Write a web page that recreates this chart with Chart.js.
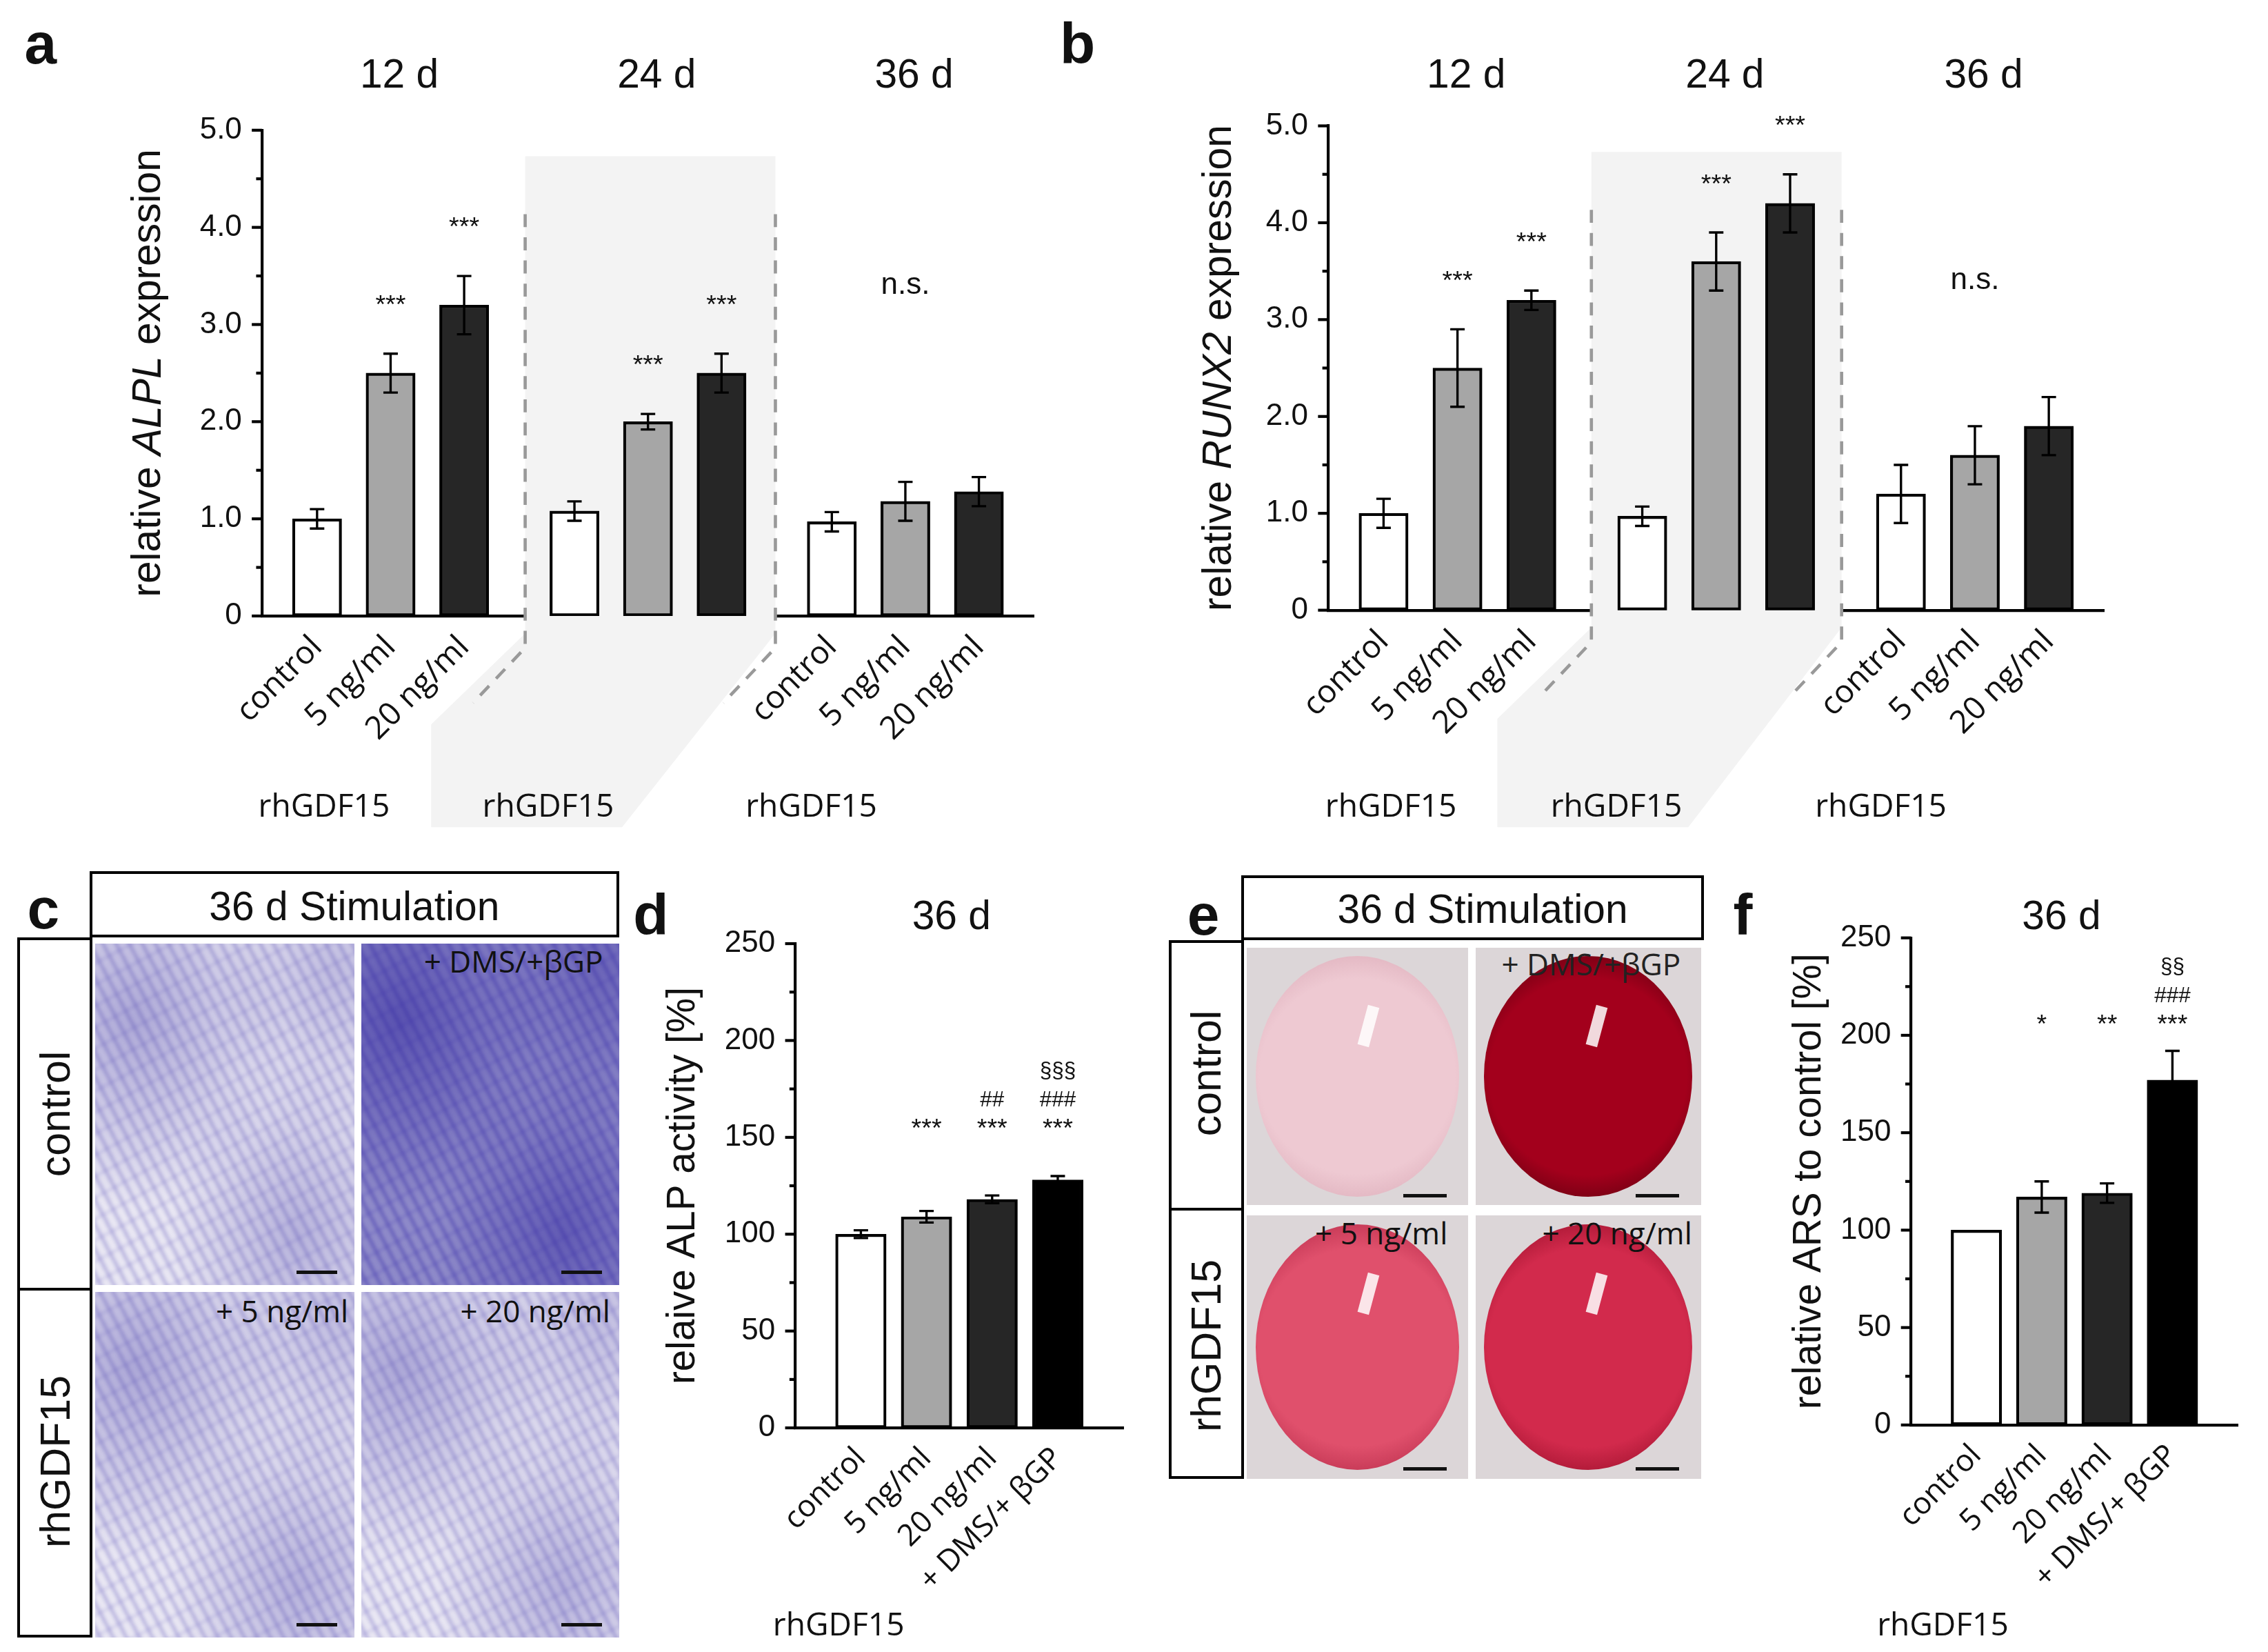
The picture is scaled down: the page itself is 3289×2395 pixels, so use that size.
<!DOCTYPE html>
<html><head><meta charset="utf-8">
<script src="https://cdn.jsdelivr.net/npm/chart.js@4/dist/chart.umd.min.js"></script>
<style>
body{margin:0;background:#fff;width:3289px;height:2395px;position:relative;overflow:hidden;font-family:"Liberation Sans",Arial,sans-serif}
canvas{position:absolute}
.t{position:absolute;transform:translate(-50%,-50%);white-space:nowrap;color:#111}
.box{position:absolute;box-sizing:border-box}
</style></head><body>
<script>
// ---------- data ----------
const doseLabels = ['control','5 ng/ml','20 ng/ml'];
const timeLabels = ['12 d','24 d','36 d'];
const alplValues = [1.0,2.5,3.2, 1.08,2.0,2.5, 0.97,1.18,1.28];
const alplErrors = [0.1,0.2,0.3, 0.1,0.08,0.2, 0.1,0.2,0.15];
const alplStars  = ['***','***', '***','***'];
const runx2Values = [1.0,2.5,3.2, 0.97,3.6,4.2, 1.2,1.6,1.9];
const runx2Errors = [0.15,0.4,0.1, 0.1,0.3,0.3, 0.3,0.3,0.3];
const runx2Stars  = ['***','***', '***','***'];
const alpLabels = ['control','5 ng/ml','20 ng/ml','+ DMS/+ βGP'];
const alpValues = [100,109,118,128];
const alpErrors = [2,3,2,2];
const alpSig = [[],['***'],['***','##'],['***','###','§§§']];
const arsValues = [100,117,119,177];
const arsErrors = [0,8,5,15];
const arsSig = [[],['*'],['**'],['***','###','§§']];
const expTicks = [0,1,2,3,4,5];
const pctTicks = [0,50,100,150,200,250];

const S = 3289/1568;
const FILL3 = ['#ffffff','#a6a6a6','#262626'];
const FILL4 = ['#ffffff','#a6a6a6','#262626','#000000'];
const NARROW = '"Liberation Sans Narrow","Liberation Sans",Arial,sans-serif';
const SANS = '"Liberation Sans",Arial,sans-serif';
const OPEN = '"Open Sans","Liberation Sans",sans-serif';

function txt(s,x,y,size,extra){const d=document.createElement('div');d.className='t';d.innerHTML=s;
 d.style.left=(x*S)+'px';d.style.top=(y*S)+'px';d.style.fontSize=(size*S)+'px';if(extra)Object.assign(d.style,extra);document.body.appendChild(d);return d;}
function box(x,y,w,h,st){const d=document.createElement('div');d.className='box';Object.assign(d.style,{left:x*S+'px',top:y*S+'px',width:w*S+'px',height:h*S+'px'},st||{});document.body.appendChild(d);return d;}

function makeChart(c){
 const cv=document.createElement('canvas');
 cv.width=c.box.w*S;cv.height=c.box.h*S;cv.style.left=c.box.x*S+'px';cv.style.top=c.box.y*S+'px';
 document.body.appendChild(cv);
 const plug={id:'ann',
  beforeDatasetsDraw(ch){ if(c.before) c.before(ch,ch.ctx); },
  afterDatasetsDraw(ch){
   const ctx=ch.ctx, y=ch.scales.y, meta=ch.getDatasetMeta(0);
   ctx.save();ctx.strokeStyle='#000';ctx.lineWidth=1.6*S;
   c.values.forEach((v,i)=>{ if(v==null||!c.errors[i])return; const b=meta.data[i], x=b.x;
     const y1=y.getPixelForValue(v+c.errors[i]), y2=y.getPixelForValue(v-c.errors[i]);
     ctx.beginPath();ctx.moveTo(x,y1);ctx.lineTo(x,y2);
     ctx.moveTo(x-5*S,y1);ctx.lineTo(x+5*S,y1);ctx.moveTo(x-5*S,y2);ctx.lineTo(x+5*S,y2);ctx.stroke();});
   const xa=ch.chartArea.left;
   ctx.lineWidth=2*S;
   for(let v=c.yMin;v<=c.yMax+1e-9;v+=c.minor){ const p=y.getPixelForValue(v);
     const major=Math.abs(v/c.step-Math.round(v/c.step))<1e-6;
     ctx.beginPath();ctx.moveTo(xa,p);ctx.lineTo(xa-(major?7:4)*S,p);ctx.stroke();}
   ctx.fillStyle='#111';ctx.translate(c.titleX*S-c.box.x*S,(ch.chartArea.top+ch.chartArea.bottom)/2);ctx.rotate(-Math.PI/2);
   ctx.textBaseline='middle';
   let tot=0;const fs=c.titleSize*S;
   c.titleParts.forEach(p=>{ctx.font=(p[1]?'italic ':'')+fs+'px '+SANS;tot+=ctx.measureText(p[0]).width;});
   let xx=-tot/2;
   c.titleParts.forEach(p=>{ctx.font=(p[1]?'italic ':'')+fs+'px '+SANS;ctx.textAlign='left';ctx.fillText(p[0],xx,0);xx+=ctx.measureText(p[0]).width;});
   ctx.restore();
   if(c.after) c.after(ch,ch.ctx);
  }};
 return new Chart(cv,{type:'bar',
  data:{labels:c.labels,datasets:[{data:c.values,backgroundColor:c.colors,borderColor:'#000',borderWidth:2*S,barThickness:c.barW*S,borderSkipped:false}]},
  options:{responsive:false,animation:false,devicePixelRatio:1,
   layout:{padding:{top:(c.axis.top-c.box.y)*S,right:(c.box.x+c.box.w-c.axis.right)*S,left:0,bottom:0}},
   plugins:{legend:{display:false},tooltip:{enabled:false}},
   scales:{
    x:{offset:c.offset,grid:{display:false},border:{color:'#000',width:2*S},
       afterFit(s){s.height=(c.box.y+c.box.h-c.axis.bottom)*S;},
       ticks:{autoSkip:false,minRotation:45,maxRotation:45,color:'#111',padding:5*S,font:{family:OPEN,size:c.xFont*S}}},
    y:{min:c.yMin,max:c.yMax,grid:{display:false},border:{color:'#000',width:2*S},
       afterFit(s){s.width=(c.axis.left-c.box.x)*S;},
       afterBuildTicks(s){s.ticks=c.ticks.map(v=>({value:v}));},
       ticks:{color:'#111',padding:10*S,font:{family:NARROW,size:c.yFont*S},callback:c.fmt}}}},
  plugins:[plug]});
}

function expand(arr){
 const out=new Array(21).fill(null);
 arr.forEach((v,i)=>{out[Math.floor(i/3)*7+1+2*(i%3)]=v;});return out;}

function geneChart(bx,ax,vals,errs,gene,shade,stars,ns,titleX){
 const labels=expand(doseLabels.concat(doseLabels,doseLabels)).map(v=>v||'');
 const colors=expand(FILL3.concat(FILL3,FILL3)).map(v=>v||'#fff');
 const V=expand(vals),E=expand(errs);
 makeChart({box:bx,axis:ax,labels,values:V,errors:E,colors,barW:34,offset:true,
  yMin:0,yMax:5,step:1,minor:0.5,ticks:expTicks,fmt:v=>v===0?'0':v.toFixed(1),
  yFont:21,xFont:22,titleSize:28,titleX,
  titleParts:[['relative ',0],[gene,1],[' expression',0]],
  before(ch,ctx){
   ctx.save();
   const L=(shade[0]-bx.x)*S,R=(shade[1]-bx.x)*S,T=(shade[2]-bx.y)*S,B=ch.chartArea.bottom;
   const dy=(575-ax.bottom-3)*S;
   ctx.fillStyle='#f3f3f3';ctx.beginPath();ctx.moveTo(L,T);ctx.lineTo(R,T);ctx.lineTo(R,B+12*S);
   ctx.lineTo(R-106*S,B+dy);ctx.lineTo(L-65*S,B+dy);ctx.lineTo(L-65*S,B+75*S);ctx.lineTo(L,B+12*S);ctx.closePath();ctx.fill();
   ctx.strokeStyle='#999';ctx.lineWidth=2.2*S;ctx.setLineDash([9*S,7*S]);
   [L,R].forEach(x=>{ctx.beginPath();ctx.moveTo(x,T+40*S);ctx.lineTo(x,B+22*S);ctx.lineTo(x-36*S,B+60*S);ctx.stroke();});
   ctx.restore();
  },
  after(ch,ctx){
   const y=ch.scales.y,meta=ch.getDatasetMeta(0);ctx.save();ctx.fillStyle='#111';ctx.textAlign='center';ctx.textBaseline='middle';
   ctx.font=(18*S)+'px '+NARROW;
   [1,2,4,5].forEach((k,j)=>{const i=Math.floor(k/3)*7+1+2*(k%3);
     ctx.fillText(stars[j],meta.data[i].x,y.getPixelForValue(vals[k]+errs[k]+0.55)+4*S);});
   ctx.font=(21*S)+'px '+NARROW;
   ctx.fillText('n.s.',meta.data[17].x,y.getPixelForValue(ns));
   const off=[-46,-69,-65];
   [1,8,15].forEach((i,g)=>{const xc=(meta.data[i].x+meta.data[i+4].x)/2;
     ctx.font=(28*S)+'px '+SANS;ctx.fillText(timeLabels[g],xc+6*S,(53-bx.y)*S);
     ctx.font=(22*S)+'px '+OPEN;ctx.fillText('rhGDF15',xc+off[g]*S,(558-bx.y)*S);});
   ctx.restore();
  }});
}
geneChart({x:70,y:0,w:670,h:600},{left:181,top:90,right:715,bottom:426},alplValues,alplErrors,'ALPL',[363,536,108],alplStars,3.4,103);
geneChart({x:805,y:0,w:665,h:600},{left:918,top:87,right:1455,bottom:422},runx2Values,runx2Errors,'RUNX2',[1100,1273,105],runx2Stars,3.4,843);

function pctChart(bx,ax,vals,errs,sig,sigVal,offset,lead,trail,title,t36x,rhx,titleX){
 const pad=a=>new Array(lead).fill(null).concat(a,new Array(trail).fill(null));
 const labels=pad(alpLabels).map(v=>v||'');
 const V=pad(vals),E=pad(errs),C=pad(FILL4).map(v=>v||'#fff'),SG=pad(sig);
 makeChart({box:bx,axis:ax,labels,values:V,errors:E,colors:C,barW:35,offset,
  yMin:0,yMax:250,step:50,minor:25,ticks:pctTicks,fmt:v=>String(v),
  yFont:21,xFont:21,titleSize:27,titleX,titleParts:[[title,0]],
  after(ch,ctx){const y=ch.scales.y,meta=ch.getDatasetMeta(0);ctx.save();ctx.fillStyle='#111';ctx.textAlign='center';ctx.textBaseline='middle';
   V.forEach((v,i)=>{if(v==null)return;(SG[i]||[]).forEach((t,r)=>{ctx.font=(t.indexOf('*')>=0?18:15)*S+'px '+NARROW;
     ctx.fillText(t,meta.data[i].x,y.getPixelForValue(sigVal)-r*20*S+4*S);});});
   ctx.font=(28*S)+'px '+SANS;ctx.fillText('36 d',(t36x-bx.x)*S,(634-bx.y)*S);
   ctx.font=(22*S)+'px '+OPEN;ctx.fillText('rhGDF15',(rhx-bx.x)*S,(bx.h-16)*S);
   ctx.restore();}});
}
pctChart({x:445,y:600,w:355,h:540},{left:550,top:652,right:785,bottom:987},alpValues,alpErrors,alpSig,157,false,1,1,'relaive ALP activity [%]',658,580,473);
pctChart({x:1225,y:600,w:345,h:540},{left:1321,top:648,right:1560,bottom:985},arsValues,arsErrors,arsSig,208,false,1,1,'relative ARS to control [%]',1425,1343,1251);

[['a',28,30],['b',745,30],['c',30,628],['d',450,632],['e',832,632],['f',1205,632]].forEach(p=>txt(p[0],p[1],p[2],40,{fontWeight:'bold',fontFamily:SANS}));

function frame(x0,x1,y0,yh,ymid,y1){
 box(x0+50,y0,x1-x0-50,yh-y0,{border:(2.2*S)+'px solid #000'});
 box(x0,yh,50,y1-yh,{borderLeft:(2.2*S)+'px solid #000',borderTop:(2.2*S)+'px solid #000',borderBottom:(2.2*S)+'px solid #000'});
 box(x0,ymid,50,0,{borderTop:(2.2*S)+'px solid #000'});
 box(x0+50,yh,0,y1-yh,{borderLeft:(2.2*S)+'px solid #000'});
}
frame(12,428,602,648,890,1132);
txt('36 d Stimulation',245,626,28,{fontFamily:SANS});
txt('control',38,770,29,{transform:'translate(-50%,-50%) rotate(-90deg)'});
txt('rhGDF15',38,1010,29,{transform:'translate(-50%,-50%) rotate(-90deg)'});
function blue(x,y,w,h,dark){
 const a=dark?0.5:0.28;
 const d=box(x,y,w,h,{overflow:'hidden',background:dark?'#8f8bc9':'#e9e7f3'});
 const inner=document.createElement('div');
 Object.assign(inner.style,{position:'absolute',left:'-20%',top:'-20%',width:'140%',height:'140%',filter:`blur(${1.2*S}px)`,background:
  `radial-gradient(ellipse at 25% 30%, rgba(55,45,160,${a*1.2}) 0, transparent 40%),`+
  `radial-gradient(ellipse at 70% 75%, rgba(55,45,160,${a}) 0, transparent 35%),`+
  `radial-gradient(ellipse at 80% 20%, rgba(55,45,160,${a*0.8}) 0, transparent 30%),`+
  `repeating-linear-gradient(62deg, rgba(70,60,175,${a}) 0 ${2.5*S}px, transparent ${2.5*S}px ${8*S}px),`+
  `repeating-linear-gradient(-28deg, rgba(80,70,185,${a*0.5}) 0 ${2*S}px, transparent ${2*S}px ${13*S}px)`});
 d.appendChild(inner);
 box(x+w-40,y+h-10,28,0,{borderTop:(2.5*S)+'px solid #111'});
}
blue(66,652,179,236,false);blue(250,652,178,236,true);blue(66,893,179,239,false);blue(250,893,178,239,false);
txt('+ DMS/+βGP',355,664,21,{fontFamily:OPEN});
txt('+ 5 ng/ml',195,906,21,{fontFamily:OPEN});
txt('+ 20 ng/ml',370,906,21,{fontFamily:OPEN});

frame(808,1178,605,650,835,1022);
txt('36 d Stimulation',1025,628,28,{fontFamily:SANS});
txt('control',834,742,29,{transform:'translate(-50%,-50%) rotate(-90deg)'});
txt('rhGDF15',834,930,29,{transform:'translate(-50%,-50%) rotate(-90deg)'});
function well(x,y,w,h,col,edge){
 box(x,y,w,h,{background:'#dcd6d8'});
 box(x+6,y+6,w-12,h-12,{borderRadius:'50%',background:`radial-gradient(circle at 50% 50%, ${col} 0 62%, ${edge} 78%, #f2eef0 92%)`});
 box(x+80,y+40,8,28,{background:'rgba(255,255,255,0.85)',transform:'rotate(15deg)'});
 box(x+w-45,y+h-8,30,0,{borderTop:(2.5*S)+'px solid #111'});
}
well(862,655,153,178,'#eec9d2','#e3b8c3');
well(1020,655,156,178,'#a3001c','#7a0014');
well(862,840,153,182,'#e0506c','#c83b58');
well(1020,840,156,182,'#d22a4c','#b01a38');
txt('+ DMS/+βGP',1100,666,21,{fontFamily:OPEN,color:'#222'});
txt('+ 5 ng/ml',955,852,21,{fontFamily:OPEN});
txt('+ 20 ng/ml',1118,852,21,{fontFamily:OPEN});
</script></body></html>
